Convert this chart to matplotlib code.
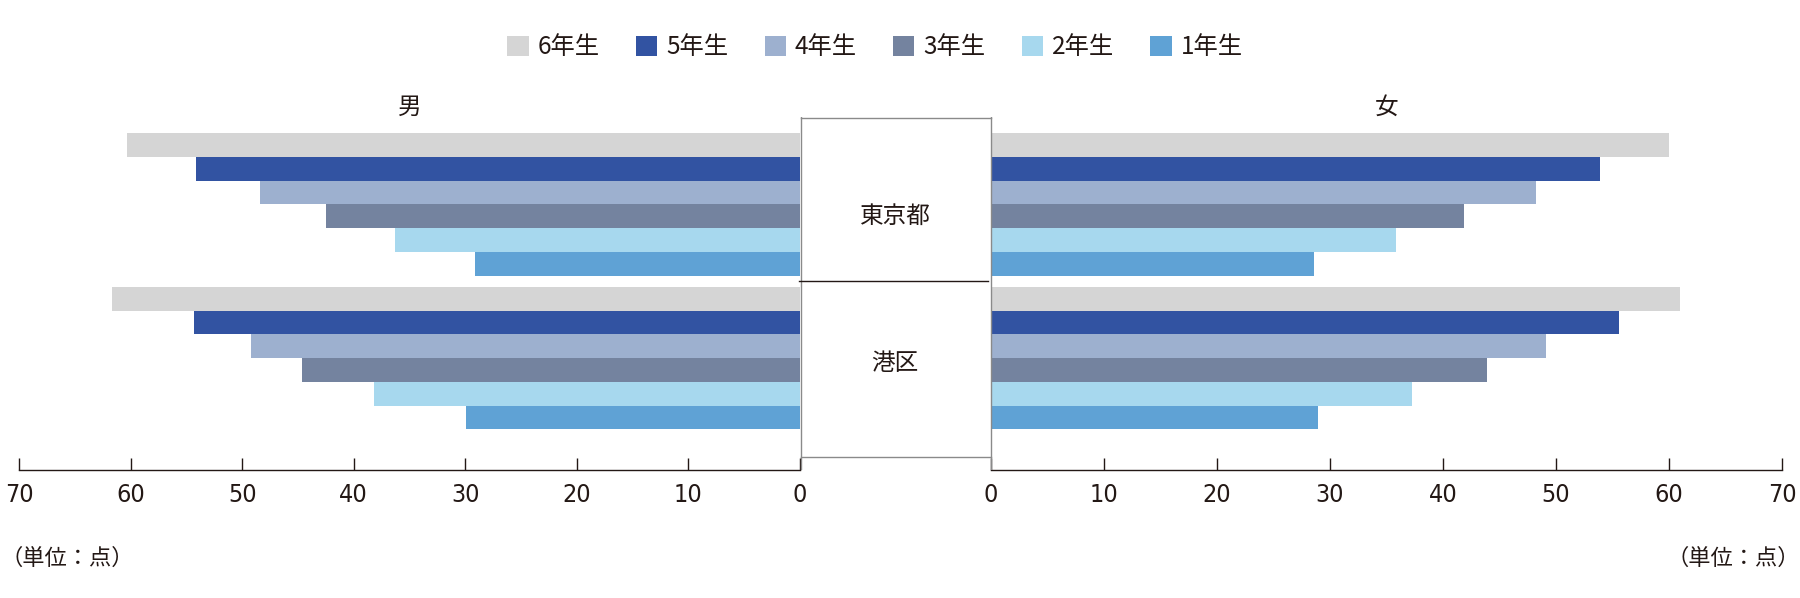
import matplotlib
matplotlib.use("Agg")
import matplotlib.pyplot as plt
from matplotlib import font_manager

W, H = 1800, 598
INK = "#231815"
BOX = "#8a8a8a"

grades = ["6年生", "5年生", "4年生", "3年生", "2年生", "1年生"]
regions = ["東京都", "港区"]
colors = ["#d5d5d5", "#3253a2", "#9db0cf", "#74839f", "#a7d8ee", "#5fa2d5"]

boys_tokyo = [60.3, 54.1, 48.4, 42.5, 36.3, 29.1]
boys_minato = [61.7, 54.3, 49.2, 44.6, 38.2, 29.9]
girls_tokyo = [60.0, 53.9, 48.2, 41.9, 35.8, 28.6]
girls_minato = [61.0, 55.6, 49.1, 43.9, 37.3, 28.9]
x_ticks = [0, 10, 20, 30, 40, 50, 60, 70]

plt.rcParams["font.family"] = ["Noto Sans CJK JP", "DejaVu Sans"]
plt.rcParams["text.color"] = INK


def narrow_font():
    # the reference uses condensed digits; pick any narrow face that is installed
    faces = font_manager.fontManager.ttflist
    for want in ["Liberation Sans Narrow", "DejaVu Sans"]:
        for f in faces:
            if f.name == want and f.style == "normal" and f.weight in (400, "normal") and (
                "Narrow" in f.fname or "Condensed" in f.fname
            ):
                return font_manager.FontProperties(fname=f.fname)
    for f in faces:
        if f.style == "normal" and ("Narrow" in f.fname or "Condensed" in f.fname) and "Bold" not in f.fname:
            return font_manager.FontProperties(fname=f.fname)
    return font_manager.FontProperties(family="DejaVu Sans")


NUM_FONT = narrow_font()


def px_rect(x0, y0, x1, y1):
    return [x0 / W, 1 - y1 / H, (x1 - x0) / W, (y1 - y0) / H]


# vertical layout in bar units (one bar = 1)
group_top = [0.69, 7.17]
y_bottom = 14.89

fig = plt.figure(figsize=(W / 100, H / 100), dpi=100)
ax_l = fig.add_axes(px_rect(19, 117, 800, 470))
ax_r = fig.add_axes(px_rect(991, 117, 1782, 470))

for ax, tokyo, minato in [(ax_l, boys_tokyo, boys_minato), (ax_r, girls_tokyo, girls_minato)]:
    for i, grade in enumerate(grades):
        ax.barh(
            [group_top[0] + i + 0.5, group_top[1] + i + 0.5],
            [tokyo[i], minato[i]],
            height=1.0,
            color=colors[i],
            label=grade,
            linewidth=0,
        )
    ax.set_ylim(y_bottom, 0)
    ax.set_yticks([])
    ax.set_xticks(x_ticks)
    ax.set_xticklabels([str(t) for t in x_ticks], color=INK)
    for lab in ax.get_xticklabels():
        lab.set_fontproperties(NUM_FONT)
        lab.set_fontsize(18)
    ax.tick_params(axis="x", direction="in", length=8.6, width=1.0, color=INK, pad=9)
    for side in ["top", "right", "left"]:
        ax.spines[side].set_visible(False)
    ax.spines["bottom"].set_color(INK)
    ax.spines["bottom"].set_linewidth(1.0)
    ax.patch.set_alpha(0)

ax_l.set_xlim(70, 0)
ax_r.set_xlim(0, 70)

# centre box with region names
ax_m = fig.add_axes(px_rect(798, 117, 993, 470))
ax_m.set_xlim(798, 993)
ax_m.set_ylim(470, 117)
ax_m.axis("off")
ax_m.plot([800.7, 800.7], [117, 470], color=BOX, lw=1.0)
ax_m.plot([990.7, 990.7], [117, 470], color=BOX, lw=1.0)
ax_m.plot([800.7, 990.7], [117.5, 117.5], color=BOX, lw=1.0)
ax_m.plot([800.7, 990.7], [457, 457], color=BOX, lw=1.0)
ax_m.plot([799, 988], [281, 281], color=INK, lw=1.0)
ax_m.text(895, 216, regions[0], ha="center", va="center", fontsize=17)
ax_m.text(895, 364, regions[1], ha="center", va="center", fontsize=17)

fig.text(410 / W, 1 - 107 / H, "男", ha="center", va="center", fontsize=17)
fig.text(1387 / W, 1 - 107 / H, "女", ha="center", va="center", fontsize=17)
fig.text(0 / W, 1 - 558 / H, "（単位：点）", ha="left", va="center", fontsize=16)
fig.text(1800 / W, 1 - 558 / H, "（単位：点）", ha="right", va="center", fontsize=16)

handles, labels = ax_l.get_legend_handles_labels()
fig.legend(
    handles,
    labels,
    loc="center",
    bbox_to_anchor=(875 / W, 1 - 47 / H),
    ncol=6,
    frameon=False,
    fontsize=17.5,
    handlelength=0.87,
    handleheight=0.9,
    handletextpad=0.37,
    columnspacing=1.5,
)

fig.savefig("out.png", dpi=100)
